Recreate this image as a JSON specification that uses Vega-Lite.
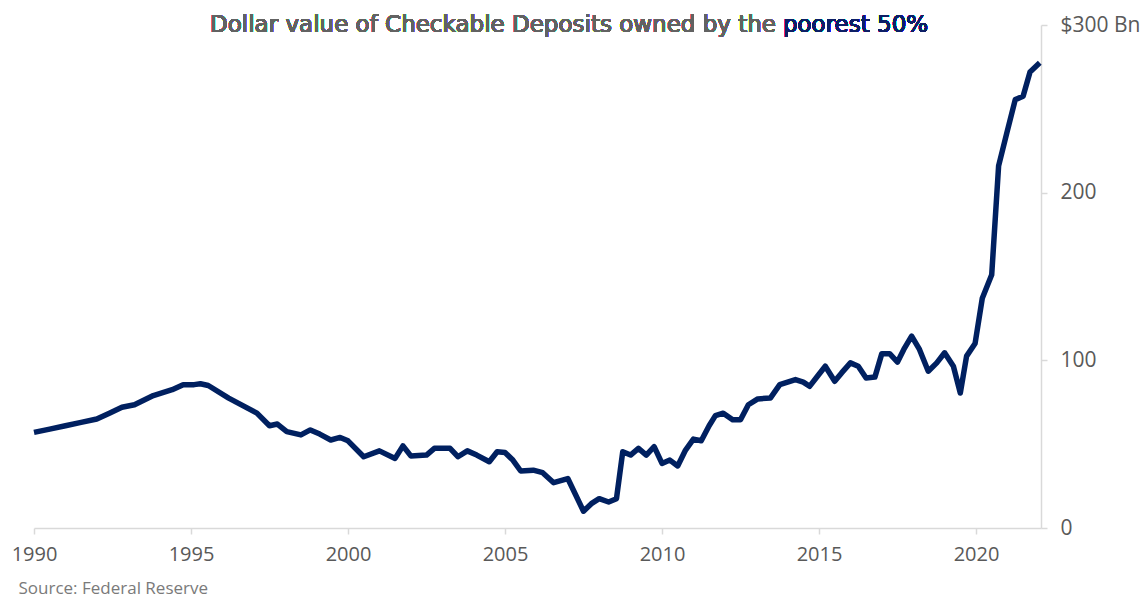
{
  "$schema": "https://vega.github.io/schema/vega-lite/v6.json",
  "width": 1007,
  "height": 503,
  "autosize": {"type": "none"},
  "padding": {"left": 34, "top": 25, "right": 99, "bottom": 77},
  "background": "white",
  "config": {"view": {"stroke": null}, "font": "Open Sans"},
  "data": {
    "values": [
      {"year": 1990.0, "value": 57}, {"year": 1990.5, "value": 59}, {"year": 1991.0, "value": 61},
      {"year": 1991.5, "value": 63}, {"year": 1992.0, "value": 65}, {"year": 1992.4, "value": 68.5},
      {"year": 1992.8, "value": 72}, {"year": 1993.2, "value": 73.5}, {"year": 1993.8, "value": 79},
      {"year": 1994.4, "value": 82.5}, {"year": 1994.75, "value": 85.5}, {"year": 1995.1, "value": 85.5},
      {"year": 1995.3, "value": 86}, {"year": 1995.55, "value": 85}, {"year": 1996.2, "value": 77.5},
      {"year": 1997.1, "value": 68.5}, {"year": 1997.5, "value": 61}, {"year": 1997.75, "value": 62},
      {"year": 1998.05, "value": 57.5}, {"year": 1998.5, "value": 55.5}, {"year": 1998.8, "value": 58.5},
      {"year": 1999.1, "value": 56}, {"year": 1999.45, "value": 52.5}, {"year": 1999.75, "value": 54},
      {"year": 2000.0, "value": 52}, {"year": 2000.5, "value": 42.5}, {"year": 2001.0, "value": 46},
      {"year": 2001.5, "value": 41.5}, {"year": 2001.75, "value": 49}, {"year": 2002.0, "value": 43},
      {"year": 2002.5, "value": 43.5}, {"year": 2002.75, "value": 47.5}, {"year": 2003.25, "value": 47.5},
      {"year": 2003.5, "value": 42.5}, {"year": 2003.8, "value": 46}, {"year": 2004.1, "value": 43.5},
      {"year": 2004.5, "value": 39.5}, {"year": 2004.75, "value": 45.5}, {"year": 2005.0, "value": 45},
      {"year": 2005.25, "value": 40.5}, {"year": 2005.5, "value": 34}, {"year": 2005.9, "value": 34.5},
      {"year": 2006.2, "value": 33}, {"year": 2006.55, "value": 27}, {"year": 2007.0, "value": 29.5},
      {"year": 2007.5, "value": 10}, {"year": 2007.75, "value": 14.5}, {"year": 2008.0, "value": 17.5},
      {"year": 2008.3, "value": 15.5}, {"year": 2008.55, "value": 17.5}, {"year": 2008.75, "value": 45.5},
      {"year": 2009.0, "value": 43.5}, {"year": 2009.25, "value": 47.5}, {"year": 2009.5, "value": 43.5},
      {"year": 2009.75, "value": 48.5}, {"year": 2010.0, "value": 38.5}, {"year": 2010.25, "value": 40.5},
      {"year": 2010.5, "value": 37}, {"year": 2010.75, "value": 46.5}, {"year": 2011.0, "value": 53},
      {"year": 2011.25, "value": 52}, {"year": 2011.5, "value": 61}, {"year": 2011.7, "value": 67},
      {"year": 2011.95, "value": 68.5}, {"year": 2012.25, "value": 64.5}, {"year": 2012.5, "value": 64.5},
      {"year": 2012.75, "value": 73.5}, {"year": 2013.05, "value": 77}, {"year": 2013.45, "value": 77.5},
      {"year": 2013.75, "value": 85.5}, {"year": 2014.25, "value": 88.5}, {"year": 2014.5, "value": 87},
      {"year": 2014.7, "value": 84.5}, {"year": 2014.95, "value": 90.5}, {"year": 2015.2, "value": 96.5},
      {"year": 2015.5, "value": 87.5}, {"year": 2015.72, "value": 92.5}, {"year": 2016.0, "value": 98.5},
      {"year": 2016.25, "value": 96.5}, {"year": 2016.5, "value": 89.5}, {"year": 2016.78, "value": 90},
      {"year": 2017.0, "value": 104}, {"year": 2017.25, "value": 104}, {"year": 2017.5, "value": 99},
      {"year": 2017.7, "value": 106.5}, {"year": 2017.95, "value": 114.5}, {"year": 2018.2, "value": 106.5},
      {"year": 2018.48, "value": 93.5}, {"year": 2018.75, "value": 98.5}, {"year": 2019.0, "value": 104.5},
      {"year": 2019.28, "value": 96.5}, {"year": 2019.5, "value": 80.5}, {"year": 2019.7, "value": 102.5},
      {"year": 2019.97, "value": 110}, {"year": 2020.2, "value": 137}, {"year": 2020.5, "value": 151},
      {"year": 2020.72, "value": 216}, {"year": 2020.98, "value": 235.5}, {"year": 2021.25, "value": 255.5},
      {"year": 2021.5, "value": 257.5}, {"year": 2021.72, "value": 272}, {"year": 2022.03, "value": 277.5}
    ]
  },
  "layer": [
    {
      "mark": {"type": "line", "color": "#002060", "strokeWidth": 5.5, "strokeJoin": "round", "strokeCap": "butt"},
      "encoding": {
        "x": {
          "field": "year", "type": "quantitative",
          "scale": {"domain": [1990, 2022.07], "nice": false, "zero": false},
          "axis": {
            "values": [1990, 1995, 2000, 2005, 2010, 2015, 2020],
            "format": "d",
            "grid": false,
            "domainColor": "#d9d9d9", "domainWidth": 1.5,
            "tickColor": "#d9d9d9", "tickSize": 6, "tickWidth": 1.5,
            "labelFontSize": 20, "labelColor": "#595959", "labelPadding": 10, "labelFlush": false,
            "title": "Source: Federal Reserve",
            "titleFontSize": 17, "titleFontWeight": "normal", "titleColor": "#7a7a7a",
            "titleAnchor": "start", "titleAlign": "left", "titleX": -16, "titleY": 65,
            "titleBaseline": "alphabetic"
          }
        },
        "y": {
          "field": "value", "type": "quantitative",
          "scale": {"domain": [0, 300], "nice": false},
          "axis": {
            "orient": "right",
            "values": [0, 100, 200, 300],
            "labelExpr": "datum.value == 300 ? '$300 Bn' : datum.label",
            "grid": false,
            "domainColor": "#d9d9d9", "domainWidth": 1.5,
            "tickColor": "#d9d9d9", "tickSize": 6, "tickWidth": 1.5,
            "labelFontSize": 21, "labelColor": "#595959", "labelPadding": 13,
            "labelAlign": "left", "labelBaseline": "middle",
            "title": null
          }
        }
      }
    },
    {
      "mark": {"type": "text", "text": "Dollar value of Checkable Deposits owned by the", "align": "right", "baseline": "middle", "font": "DejaVu Sans", "fontSize": 23, "color": "#626262"},
      "encoding": {"x": {"datum": 2013.63, "type": "quantitative"}, "y": {"datum": 300, "type": "quantitative"}}
    },
    {
      "mark": {"type": "text", "text": "poorest 50%", "align": "left", "baseline": "middle", "font": "DejaVu Sans", "fontSize": 23, "color": "#0d1f66"},
      "encoding": {"x": {"datum": 2013.85, "type": "quantitative"}, "y": {"datum": 300, "type": "quantitative"}}
    }
  ]
}
